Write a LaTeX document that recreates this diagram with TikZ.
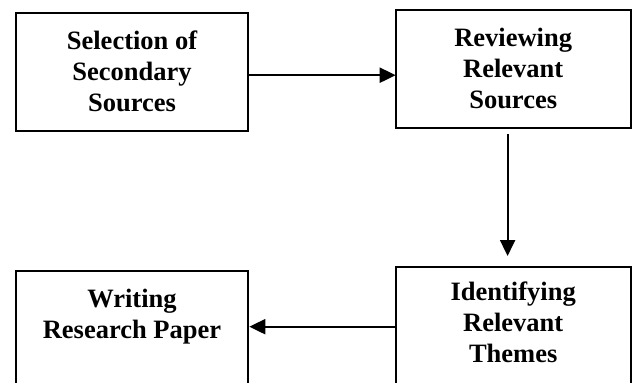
\documentclass[tikz,border=0pt]{standalone}
\usepackage{fontspec}
\setmainfont{Liberation Serif}
\usetikzlibrary{arrows.meta,calc}
\begin{document}
\begin{tikzpicture}[x=1pt,y=-1pt,
  box/.style={draw=black, line width=2.1pt, inner sep=0pt, outer sep=0pt,
    font=\bfseries\fontsize{26.5}{31}\selectfont},
  arr/.style={line width=2.1pt, -{Triangle[length=16pt,width=15pt]}}]
\useasboundingbox (0,0) rectangle (635,383);
\node[box] (b1) at (132,72.2) {\parbox[c][117.7pt][t]{232.6pt}{\centering\rule{0pt}{36pt}Selection of\\Secondary\\Sources}};
\node[box] (b2) at (513.2,69.2) {\parbox[c][118.3pt][t]{235pt}{\centering\rule{0pt}{36.5pt}Reviewing\\Relevant\\Sources}};
\node[box] (b3) at (132,330.7) {\parbox[c][120pt][t]{232.6pt}{\centering\rule{0pt}{36.3pt}Writing\\Research Paper}};
\node[box] (b4) at (513.2,326.7) {\parbox[c][120pt][t]{235pt}{\centering\rule{0pt}{34pt}Identifying\\Relevant\\Themes}};
\draw[arr] ([yshift=-3pt]b1.east) -- ([yshift=-3pt]b1.east -| b2.west);
\draw[arr] ([xshift=-5.6pt,yshift=-5.7pt]b2.south) -- ([xshift=-5.6pt,yshift=10.7pt]b4.north);
\draw[arr, shorten >=1pt] (b4.west) -- (b4.west -| b3.east);
\end{tikzpicture}
\end{document}
